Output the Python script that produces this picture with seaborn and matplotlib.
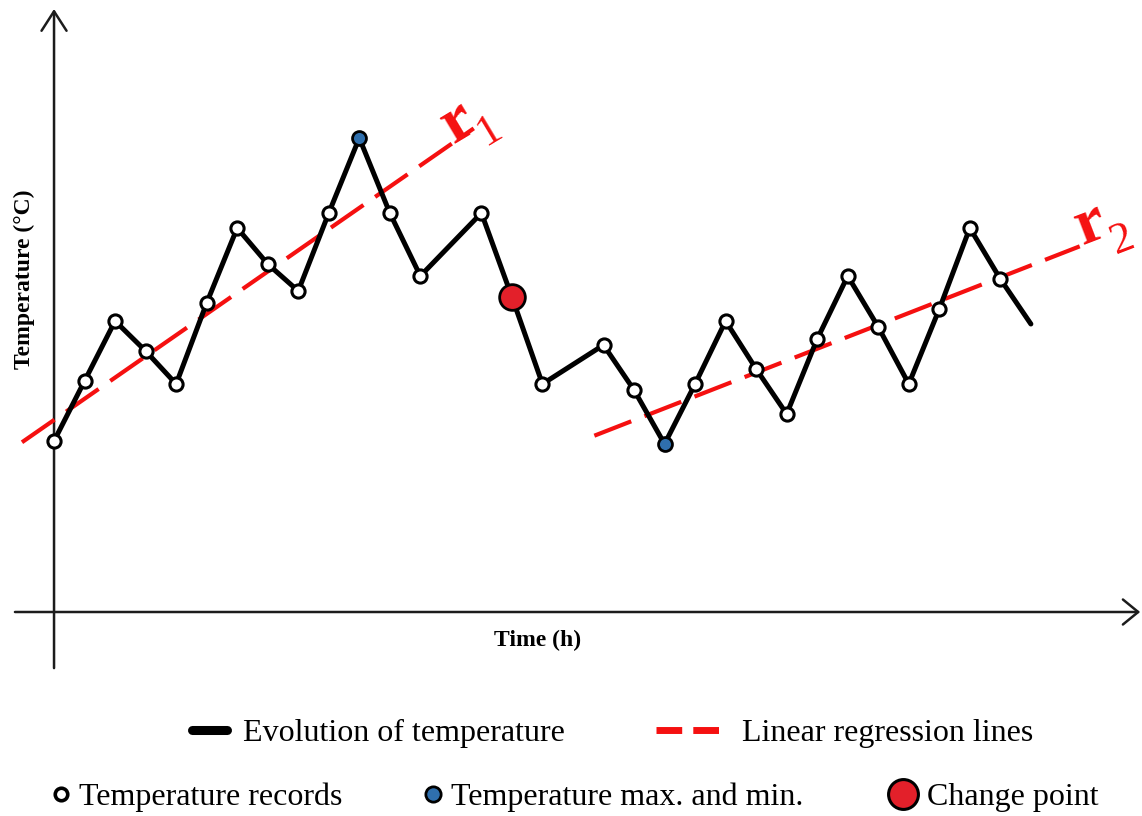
import numpy as np
import pandas as pd
import matplotlib
matplotlib.use("Agg")
import matplotlib.pyplot as plt
from matplotlib.lines import Line2D
import seaborn as sns

# ---- data -------------------------------------------------------------
hours = [0, 1, 2, 3, 4, 5, 6, 7, 8, 9, 10, 11, 12, 14, 15, 16,
         18, 19, 20, 21, 22, 23, 24, 25, 26, 27, 28, 29, 30, 31, 32]
temps = [15.7, 17.7, 19.7, 18.7, 17.6, 20.3, 22.8, 21.6, 20.7, 23.3, 25.8,
         23.3, 21.2, 23.3, 20.5, 17.6, 18.9, 17.4, 15.6, 17.6, 19.7, 18.1,
         16.6, 19.1, 21.2, 19.5, 17.6, 20.1, 22.8, 21.1, 19.6]
extreme_hours = [10, 20]      # temperature max. and min.
change_hours = [15]           # change point
unmarked_hours = [32]         # last reading, line end only

# linear regression lines r1 and r2: T = intercept + slope * t
reg_names = ["1", "2"]
reg_slopes = [0.707, 0.397]
reg_intercepts = [16.4, 8.85]
reg_t_start = [-1.05, 17.7]
reg_t_end = [13.75, 33.6]

legend_labels = ["Evolution of temperature", "Linear regression lines",
                 "Temperature records", "Temperature max. and min.",
                 "Change point"]
x_label = "Time (h)"
y_label = "Temperature (°C)"

# ---- style ------------------------------------------------------------
sns.set_theme(style="white")
plt.rcParams["font.family"] = ["Liberation Serif", "DejaVu Serif"]
plt.rcParams["text.color"] = "black"

W, H = 1142, 816
fig = plt.figure(figsize=(W / 100, H / 100), dpi=100)
ax = fig.add_axes([0, 0, 1, 1])
ax.set_xlim(-1.77, 35.64)
ax.set_ylim(3.2, 30.4)
ax.axis("off")

RED_LINE = "#f51010"
BLUE = "#2f6fad"
RED_PT = "#e3202a"
AX_COL = "#1c1c1c"

df = pd.DataFrame({"hour": hours, "temp": temps})
df["kind"] = "record"
df.loc[df["hour"].isin(extreme_hours), "kind"] = "extreme"
df.loc[df["hour"].isin(change_hours), "kind"] = "change"
df.loc[df["hour"].isin(unmarked_hours), "kind"] = "none"

# ---- coordinate axes with open arrow heads --------------------------------
ax.annotate("", xy=(0, 30.1), xytext=(0, 8.13),
            arrowprops=dict(arrowstyle="->,head_length=0.7,head_width=0.45",
                            lw=1.8, color=AX_COL, shrinkA=0, shrinkB=0,
                            mutation_scale=20), zorder=1)
ax.annotate("", xy=(35.58, 10), xytext=(-1.28, 10),
            arrowprops=dict(arrowstyle="->,head_length=0.55,head_width=0.45",
                            lw=1.8, color=AX_COL, shrinkA=0, shrinkB=0,
                            mutation_scale=20), zorder=1)

# ---- regression lines -------------------------------------------------
for name, m, b, t0, t1 in zip(reg_names, reg_slopes, reg_intercepts,
                              reg_t_start, reg_t_end):
    tt = np.array([t0, t1])
    sns.lineplot(x=tt, y=b + m * tt, ax=ax, color=RED_LINE, lw=3.0,
                 dashes=False, zorder=2).lines[-1].set_dashes((9.5, 3.4))

# ---- temperature evolution --------------------------------------------
sns.lineplot(data=df, x="hour", y="temp", ax=ax, color="black", lw=3.6,
             estimator=None, sort=False, zorder=3)

sns.scatterplot(data=df[df["kind"] == "record"], x="hour", y="temp", ax=ax,
                s=9.5 ** 2, color="white", edgecolor="black", linewidth=2.2,
                zorder=4)
sns.scatterplot(data=df[df["kind"] == "extreme"], x="hour", y="temp", ax=ax,
                s=10 ** 2, color=BLUE, edgecolor="black", linewidth=2.0,
                zorder=4)
sns.scatterplot(data=df[df["kind"] == "change"], x="hour", y="temp", ax=ax,
                s=18.5 ** 2, color=RED_PT, edgecolor="black", linewidth=2.0,
                zorder=4)
ax.set_xlabel("")
ax.set_ylabel("")

# ---- r1 / r2 labels: bold "r" with a plain subscript ---------------------
label_r_pos = [(13.2, 26.3), (33.95, 22.9)]
label_sub_pos = [(14.25, 26.05), (35.0, 22.4)]
label_rot = [31, 21]
for name, (rx, ry), (sx, sy), rot in zip(reg_names, label_r_pos,
                                         label_sub_pos, label_rot):
    ax.text(rx, ry, "r", color=RED_LINE, fontsize=47, fontweight="bold",
            rotation=rot, ha="center", va="center", rotation_mode="anchor")
    ax.text(sx, sy, name, color=RED_LINE, fontsize=32,
            rotation=rot, ha="center", va="center", rotation_mode="anchor")

# ---- axis titles --------------------------------------------------------
fig.text(538 / W, 1 - 640 / H, x_label, ha="center", va="center",
         fontsize=17, fontweight="bold")
fig.text(24 / W, 1 - 279 / H, y_label, ha="center", va="center",
         fontsize=17, fontweight="bold", rotation=90)

# ---- legend -----------------------------------------------------------
handles = [
    Line2D([], [], color="black", lw=6.5, solid_capstyle="round"),
    Line2D([], [], color=RED_LINE, lw=5.0, dashes=(3.7, 1.6)),
    Line2D([], [], ls="none", marker="o", ms=9, mfc="white",
           mec="black", mew=2.6),
    Line2D([], [], ls="none", marker="o", ms=11, mfc=BLUE,
           mec="black", mew=2.0),
    Line2D([], [], ls="none", marker="o", ms=21.5, mfc=RED_PT,
           mec="black", mew=2.2),
]
# (left edge px, centre y px, handle length, text pad)
slots = [(192, 733, 1.1, 0.5), (656, 733, 1.98, 0.72),
         (50, 797, 0.7, 0.22), (422, 797, 0.7, 0.2),
         (886, 797, 1.05, 0.22)]
for h, lab, (x0, y0, hl, pad) in zip(handles, legend_labels, slots):
    fig.legend([h], [lab], loc="center left",
               bbox_to_anchor=(x0 / W, 1 - y0 / H), frameon=False,
               borderpad=0, borderaxespad=0, handlelength=hl,
               handletextpad=pad, fontsize=23, labelcolor="black")

fig.savefig("out.png", dpi=100)
